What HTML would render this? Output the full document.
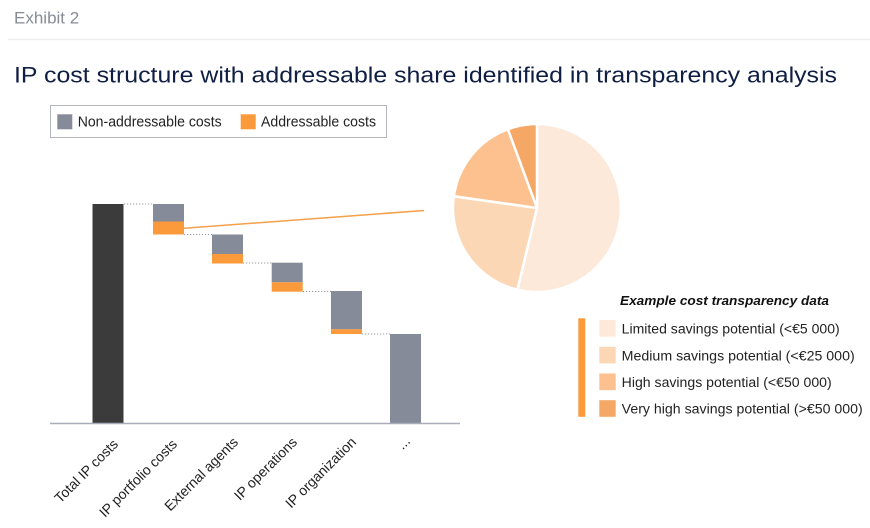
<!DOCTYPE html>
<html>
<head>
<meta charset="utf-8">
<style>
html,body{margin:0;padding:0;background:#fff;}
svg{display:block;}
text{font-family:"Liberation Sans",Arial,sans-serif;}
</style>
</head>
<body>
<svg width="870" height="528" viewBox="0 0 870 528" xmlns="http://www.w3.org/2000/svg">
  <rect width="870" height="528" fill="#fff"/>
  <!-- header -->
  <text x="14" y="23.3" font-size="17" fill="#868b95">Exhibit 2</text>
  <line x1="8" y1="39.5" x2="870" y2="39.5" stroke="#ececee" stroke-width="1.2"/>
  <text x="14" y="82.7" font-size="22.5" fill="#0f1e42" textLength="823" lengthAdjust="spacingAndGlyphs">IP cost structure with addressable share identified in transparency analysis</text>

  <!-- top legend -->
  <rect x="50.5" y="105.5" width="336" height="32" fill="#fff" stroke="#b4b6be" stroke-width="1"/>
  <rect x="57.3" y="114.3" width="15" height="15" fill="#868b9a"/>
  <text x="77.7" y="126.7" font-size="14.5" fill="#222" textLength="144" lengthAdjust="spacingAndGlyphs">Non-addressable costs</text>
  <rect x="240.7" y="114.3" width="15" height="15" fill="#fb9a3a"/>
  <text x="261" y="126.7" font-size="14.5" fill="#222" textLength="115" lengthAdjust="spacingAndGlyphs">Addressable costs</text>

  <!-- waterfall -->
  <g stroke="#9a9aa0" stroke-width="1" stroke-dasharray="1.2,1.8" fill="none">
    <line x1="124" y1="204" x2="153" y2="204"/>
    <line x1="184" y1="234.5" x2="212" y2="234.5"/>
    <line x1="243" y1="263" x2="272" y2="263"/>
    <line x1="303" y1="291.5" x2="331" y2="291.5"/>
    <line x1="362" y1="334" x2="390" y2="334"/>
  </g>
  <rect x="92.5" y="204" width="31" height="219.5" fill="#3b3b3b"/>

  <rect x="153" y="204" width="31" height="17.5" fill="#868b9a"/>
  <rect x="153" y="221.5" width="31" height="13" fill="#fb9a3a"/>

  <rect x="212" y="234.5" width="31" height="19.5" fill="#868b9a"/>
  <rect x="212" y="254" width="31" height="9.5" fill="#fb9a3a"/>

  <rect x="271.7" y="262.7" width="31" height="19.6" fill="#868b9a"/>
  <rect x="271.7" y="282.3" width="31" height="9.4" fill="#fb9a3a"/>

  <rect x="331" y="291" width="31" height="38.3" fill="#868b9a"/>
  <rect x="331" y="329.3" width="31" height="4.7" fill="#fb9a3a"/>

  <rect x="390" y="334" width="31" height="89.5" fill="#868b9a"/>

  <line x1="50" y1="423.5" x2="460" y2="423.5" stroke="#a9adb9" stroke-width="1.6"/>

  <!-- connector line -->
  <line x1="184" y1="228.3" x2="424" y2="210.5" stroke="#f5a04a" stroke-width="1.5"/>

  <!-- category labels -->
  <g font-size="14" fill="#222" text-anchor="end">
    <text transform="translate(119,445) rotate(-45)">Total IP costs</text>
    <text transform="translate(178,445) rotate(-45)">IP portfolio costs</text>
    <text transform="translate(239,443) rotate(-45)">External agents</text>
    <text transform="translate(298,443) rotate(-45)">IP operations</text>
    <text transform="translate(357,443) rotate(-45)">IP organization</text>
    <text transform="translate(411,442) rotate(-45)">...</text>
  </g>

  <!-- pie -->
  <g stroke="#fff" stroke-width="2.5" stroke-linejoin="round">
    <path d="M537,208 L537,124 A84,84 0 1 1 517.4,289.7 Z" fill="#fde9d9"/>
    <path d="M537,208 L517.4,289.7 A84,84 0 0 1 453.8,196.3 Z" fill="#fcd7b6"/>
    <path d="M537,208 L453.8,196.3 A84,84 0 0 1 507.9,129.2 Z" fill="#fcc18f"/>
    <path d="M537,208 L507.9,129.2 A84,84 0 0 1 537,124 Z" fill="#f5a865"/>
  </g>

  <!-- right legend -->
  <text x="620" y="305" font-size="13" font-weight="bold" font-style="italic" fill="#111" textLength="209" lengthAdjust="spacingAndGlyphs">Example cost transparency data</text>
  <rect x="578.3" y="318.3" width="7" height="98.5" fill="#fb9a3a"/>
  <rect x="599.3" y="320" width="16.4" height="16.6" fill="#fde9d9"/>
  <rect x="599.3" y="346.8" width="16.4" height="16.6" fill="#fcd7b6"/>
  <rect x="599.3" y="373.5" width="16.4" height="16.6" fill="#fcc18f"/>
  <rect x="599.3" y="400.2" width="16.4" height="16.6" fill="#f5a865"/>
  <g font-size="13.5" fill="#222">
    <text x="621.7" y="333.5" textLength="218" lengthAdjust="spacingAndGlyphs">Limited savings potential (&lt;€5 000)</text>
    <text x="621.7" y="360.3" textLength="233" lengthAdjust="spacingAndGlyphs">Medium savings potential (&lt;€25 000)</text>
    <text x="621.7" y="387" textLength="210" lengthAdjust="spacingAndGlyphs">High savings potential (&lt;€50 000)</text>
    <text x="621.7" y="413.7" textLength="241" lengthAdjust="spacingAndGlyphs">Very high savings potential (&gt;€50 000)</text>
  </g>
</svg>
</body>
</html>
